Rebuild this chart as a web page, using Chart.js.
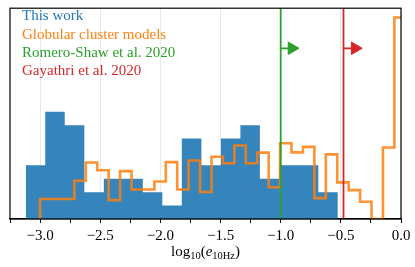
<!DOCTYPE html>
<html>
<head>
<meta charset="utf-8">
<script src="https://cdn.jsdelivr.net/npm/chart.js@4.4.1/dist/chart.umd.min.js"></script>
<style>
html,body{margin:0;padding:0;background:#fff;}
#wrap{width:415px;height:267px;position:relative;}
</style>
</head>
<body>
<div id="wrap"><canvas id="ecc"></canvas></div>
<script>
// histogram of this work (bin edges + counts)
const blueEdges = [-3.119,-2.957,-2.795,-2.632,-2.470,-2.308,-2.146,-1.984,-1.822,-1.659,-1.497,-1.335,-1.173,-1.011,-0.849,-0.687,-0.525];
const blueCounts = [4,8,7,2,3,3,2,1,6,4,6,7,3,4,4,2];

// globular cluster models (step outline)
const orangeEdges = [-3.000,-2.905,-2.810,-2.715,-2.620,-2.525,-2.430,-2.335,-2.240,-2.145,-2.050,-1.955,-1.860,-1.765,-1.670,-1.575,-1.480,-1.385,-1.290,-1.195,-1.100,-1.005,-0.910,-0.815,-0.720,-0.625,-0.530,-0.435,-0.340,-0.245,-0.150,-0.055,0.040];
const orangeVals = [1.49,1.49,1.49,2.85,4.21,3.64,1.41,3.57,2.20,2.20,2.80,4.24,2.20,4.36,2.01,4.64,4.16,5.48,4.16,4.95,2.37,5.65,4.97,5.38,1.56,4.82,2.73,2.15,1.29,0,5.33,15.03];

// lower limits from other papers
const limitNames = ["Romero-Shaw et al. 2020","Gayathri et al. 2020"];
const limitX = [-1.0,-0.478];
const arrowEnd = [-0.9075,-0.3825];
const arrowY = 12.73;

const legendNames = ["This work","Globular cluster models"].concat(limitNames);
const xTickLabels = ["\u22123.0","\u22122.5","\u22122.0","\u22121.5","\u22121.0","\u22120.5","0.0"];
const xMin = -3.25, xMax = 0, yMax = 15.72;

const C_BLUE = "#1f77b4", C_ORANGE = "#ff7f0e", C_GREEN = "#2ca02c", C_RED = "#d62728";
const SERIF = '"Liberation Serif", "DejaVu Serif", serif';

function stepPoints(edges, vals){
  const pts = [{x:edges[0], y:0}];
  vals.forEach((v,i) => pts.push({x:edges[i], y:v}));
  pts.push({x:edges[edges.length-1], y:vals[vals.length-1]});
  pts.push({x:edges[edges.length-1], y:0});
  return pts;
}

const isMajor = v => Math.abs(v*2 - Math.round(v*2)) < 1e-6;

const overlay = {
  id: "overlay",
  afterDatasetsDraw(chart){
    const ctx = chart.ctx, a = chart.chartArea;
    ctx.save();
    ctx.strokeStyle = "#000";
    ctx.lineWidth = 1.2;
    ctx.strokeRect(a.left, a.top, a.right - a.left, a.bottom - a.top);
    // legend text (no handles)
    ctx.font = "15px " + SERIF;
    ctx.textBaseline = "alphabetic";
    ctx.textAlign = "left";
    const cols = [C_BLUE, C_ORANGE, C_GREEN, C_RED];
    legendNames.forEach((t,i) => {
      ctx.fillStyle = cols[i];
      ctx.fillText(t, 22, 20.3 + i*18.35);
    });
    ctx.restore();
  },
  afterDraw(chart){
    const ctx = chart.ctx, a = chart.chartArea;
    const parts = [
      {t:"log", f:"15px " + SERIF, dy:0},
      {t:"10", f:"10.5px " + SERIF, dy:3},
      {t:"(", f:"15px " + SERIF, dy:0},
      {t:"e", f:"italic 15px " + SERIF, dy:0},
      {t:"10Hz", f:"10.5px " + SERIF, dy:3},
      {t:")", f:"15px " + SERIF, dy:0}
    ];
    ctx.save();
    let w = 0;
    parts.forEach(p => { ctx.font = p.f; p.w = ctx.measureText(p.t).width; w += p.w; });
    let x = (a.left + a.right)/2 - w/2;
    const base = 256;
    ctx.fillStyle = "#000";
    ctx.textBaseline = "alphabetic";
    ctx.textAlign = "left";
    parts.forEach(p => { ctx.font = p.f; ctx.fillText(p.t, x, base + p.dy); x += p.w; });
    ctx.restore();
  }
};

const datasets = [
  {
    label: legendNames[0],
    data: stepPoints(blueEdges, blueCounts),
    stepped: true,
    fill: "origin",
    backgroundColor: "rgba(31,119,180,0.9)",
    borderColor: "rgba(31,119,180,0)",
    borderWidth: 0,
    pointRadius: 0,
    order: 5
  },
  {
    label: legendNames[1],
    data: stepPoints(orangeEdges, orangeVals),
    stepped: true,
    fill: false,
    borderColor: "rgba(255,127,14,0.85)",
    borderWidth: 2.6,
    borderJoinStyle: "miter",
    pointRadius: 0,
    order: 4
  }
];

const limitCols = [C_GREEN, C_RED];
limitX.forEach((lx,i) => {
  datasets.push({
    label: limitNames[i],
    data: [{x:lx, y:0}, {x:lx, y:yMax}],
    borderColor: limitCols[i],
    borderWidth: 1.8,
    pointRadius: 0,
    order: 3 - i
  });
  datasets.push({
    label: limitNames[i] + " arrow",
    data: [{x:lx, y:arrowY}, {x:arrowEnd[i], y:arrowY}],
    borderColor: limitCols[i],
    borderWidth: 1.8,
    pointRadius: [0, 7.2],
    pointStyle: "triangle",
    pointRotation: 90,
    pointBackgroundColor: limitCols[i],
    pointBorderColor: limitCols[i],
    pointBorderWidth: 1,
    order: 1
  });
});

new Chart("ecc", {
  type: "line",
  data: { datasets: datasets },
  options: {
    responsive: true,
    maintainAspectRatio: false,
    animation: false,
    events: [],
    layout: { padding: { left: 10, right: 14, top: 4, bottom: 18 } },
    plugins: { legend: { display: false }, tooltip: { enabled: false } },
    scales: {
      x: {
        type: "linear",
        min: xMin,
        max: xMax,
        ticks: {
          stepSize: 0.25,
          autoSkip: false,
          maxRotation: 0,
          padding: 4,
          color: "#000",
          font: { family: SERIF, size: 15 },
          callback: v => isMajor(v) ? xTickLabels[Math.round((v + 3) * 2)] || "" : ""
        },
        grid: {
          color: c => (c.tick && isMajor(c.tick.value)) ? "#e6e6e6" : "rgba(0,0,0,0)",
          lineWidth: 0.9,
          tickColor: "#000",
          tickLength: 4,
          tickWidth: 1
        },
        border: { color: "#000", width: 1.2 }
      },
      y: {
        display: false,
        min: 0,
        max: yMax
      }
    }
  },
  plugins: [overlay]
});
</script>
</body>
</html>
